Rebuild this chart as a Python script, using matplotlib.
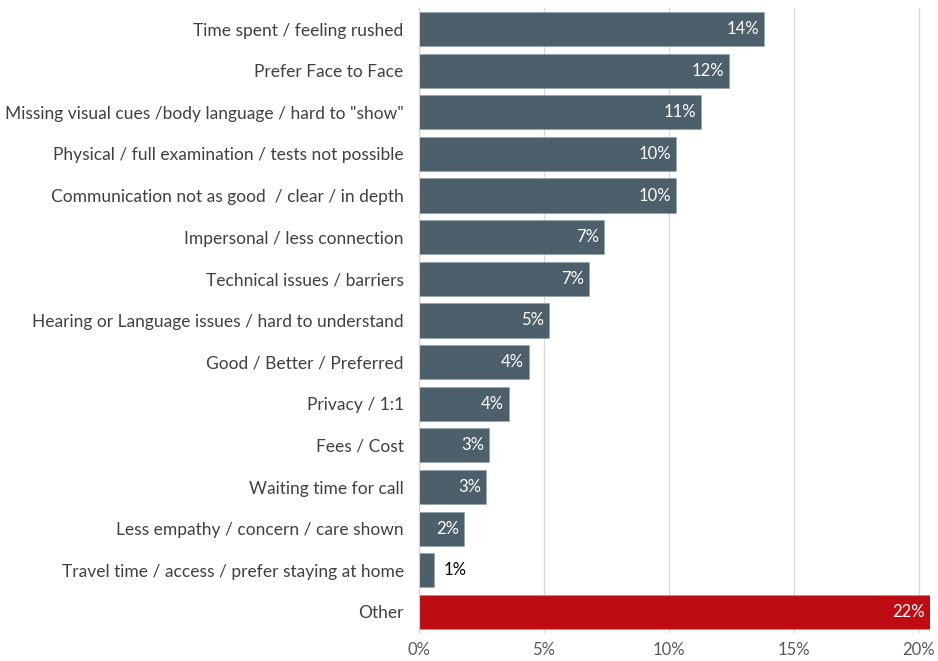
import matplotlib
matplotlib.use("Agg")
import matplotlib.pyplot as plt
from matplotlib.ticker import FuncFormatter

plt.rcParams['font.family'] = ['Lato', 'DejaVu Sans']

# 原因类别（从上到下）
reasons = [
    'Time spent / feeling rushed',
    'Prefer Face to Face',
    'Missing visual cues /body language / hard to "show"',
    'Physical / full examination / tests not possible',
    'Communication not as good  / clear / in depth',
    'Impersonal / less connection',
    'Technical issues / barriers',
    'Hearing or Language issues / hard to understand',
    'Good / Better / Preferred',
    'Privacy / 1:1',
    'Fees / Cost',
    'Waiting time for call',
    'Less empathy / concern / care shown',
    'Travel time / access / prefer staying at home',
    'Other',
]
# 百分比
pct = [13.8, 12.4, 11.3, 10.3, 10.3, 7.4, 6.8, 5.2, 4.4, 3.6, 2.8, 2.7, 1.8, 0.6, 22.0]
xticks = [0, 5, 10, 15, 20]

slate = '#4D5F6A'
red = '#BE0D12'
colors = [slate] * (len(pct) - 1) + [red]

fig = plt.figure(figsize=(9.38, 6.61), dpi=100)
ax = fig.add_axes([0.4467, 0.0427, 0.5448, 0.9449])

y = list(range(len(pct)))
ax.barh(y, pct, height=0.82, color=colors, edgecolor='#8FA0AA', linewidth=0.4, zorder=2)

xmax = 20.45
ax.set_xlim(0, xmax)
ax.set_ylim(len(pct) - 0.5, -0.5)

ax.set_yticks(y)
ax.set_yticklabels(reasons, fontsize=12.5, color='#404040')
ax.set_xticks(xticks)
ax.xaxis.set_major_formatter(FuncFormatter(lambda v, p: f'{v:.0f}%'))
ax.tick_params(axis='x', labelsize=12, colors='#595959', length=0, pad=7)
ax.tick_params(axis='y', length=0, pad=11)

ax.grid(axis='x', color='#D9D9D9', linewidth=1, zorder=0)
for s in ['top', 'right', 'bottom']:
    ax.spines[s].set_visible(False)
ax.spines['left'].set_color('#D0D0D0')
ax.spines['left'].set_zorder(3)

# 数据标签：柱内靠右白字，太短的放在柱外
for i, v in enumerate(pct):
    label = f'{v:.0f}%'
    if v < 1:
        ax.text(v + 0.4, i, label, va='center', ha='left', fontsize=12, color='black', zorder=4)
    else:
        end = min(v, xmax)
        ax.text(end - 0.2, i, label, va='center', ha='right', fontsize=12, color='white', zorder=4)

fig.savefig('out.png', dpi=100)
